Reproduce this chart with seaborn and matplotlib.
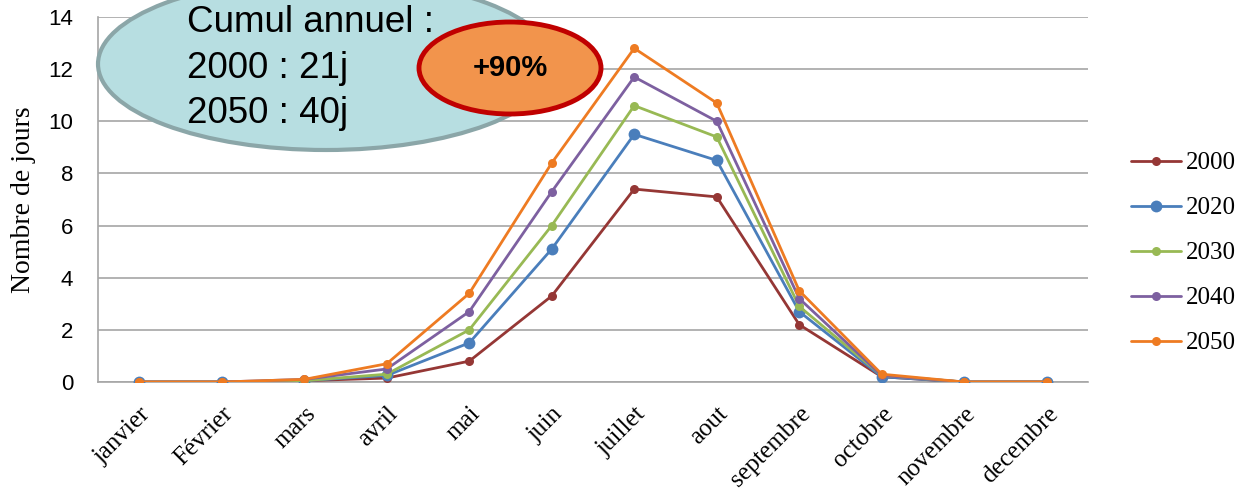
import numpy as np
import pandas as pd
import matplotlib
matplotlib.use('Agg')
import matplotlib.pyplot as plt
from matplotlib.patches import Ellipse
import seaborn as sns

# Data
months = ['janvier', 'Février', 'mars', 'avril', 'mai', 'juin', 'juillet',
          'aout', 'septembre', 'octobre', 'novembre', 'decembre']
years = ['2000', '2020', '2030', '2040', '2050']
v2000 = [0, 0, 0.05, 0.15, 0.8, 3.3, 7.4, 7.1, 2.2, 0.2, 0, 0]
v2020 = [0, 0, 0.05, 0.25, 1.5, 5.1, 9.5, 8.5, 2.7, 0.2, 0, 0]
v2030 = [0, 0, 0.05, 0.3, 2.0, 6.0, 10.6, 9.4, 2.9, 0.25, 0, 0]
v2040 = [0, 0, 0.1, 0.5, 2.7, 7.3, 11.7, 10.0, 3.2, 0.25, 0, 0]
v2050 = [0, 0, 0.1, 0.7, 3.4, 8.4, 12.8, 10.7, 3.5, 0.3, 0, 0]
colors = ['#953735', '#4A7EBB', '#98B954', '#7D60A0', '#EE7B22']
marker_sizes = [6.5, 8.5, 6.5, 6.5, 6.5]

values = [v2000, v2020, v2030, v2040, v2050]
df = pd.DataFrame({
    'mois': months * len(years),
    'idx': list(range(len(months))) * len(years),
    'annee': np.repeat(years, len(months)),
    'jours': np.concatenate(values),
})

sns.set_style('white')
plt.rcParams['text.color'] = 'black'
plt.rcParams['xtick.color'] = 'black'
plt.rcParams['ytick.color'] = 'black'
plt.rcParams['axes.labelcolor'] = 'black'

W, H = 1239, 493
fig = plt.figure(figsize=(W / 100, H / 100), dpi=100)
ax = fig.add_axes([98 / W, 1 - 382 / H, (1088 - 98) / W, (382 - 17) / H])

for year, col, ms in zip(years, colors, marker_sizes):
    sns.lineplot(data=df[df['annee'] == year], x='idx', y='jours', ax=ax,
                 color=col, marker='o', markersize=ms, markeredgewidth=0,
                 linewidth=2, label=year, zorder=3)

ax.set_xlim(-0.5, len(months) - 0.5)
ax.set_ylim(0, 14)
ax.set_yticks(np.arange(0, 15, 2))
ax.set_yticklabels([str(v) for v in range(0, 15, 2)], family='Liberation Sans', fontsize=16)
ax.set_xticks(range(len(months)))
ax.set_xticklabels(months, rotation=45, ha='right', va='top', rotation_mode='anchor',
                   family='Liberation Serif', fontsize=18)
ax.tick_params(axis='x', length=0, pad=15)
ax.tick_params(axis='y', length=0, pad=18)
ax.set_xlabel('')
ax.set_ylabel('Nombre de jours', family='Liberation Serif', fontsize=20, labelpad=9)
ax.yaxis.grid(True, color='#A6A6A6', linewidth=1.2)
ax.set_axisbelow(True)
for side in ['top', 'right']:
    ax.spines[side].set_visible(False)
for side in ['left', 'bottom']:
    ax.spines[side].set_color('#A6A6A6')
    ax.spines[side].set_linewidth(1.2)

ax.legend(loc='center left', bbox_to_anchor=(1118 / W, 1 - 253 / H),
          bbox_transform=fig.transFigure, frameon=False,
          prop={'family': 'Liberation Serif', 'size': 18},
          handlelength=2.0, handletextpad=0.2, labelspacing=0.9, borderpad=0)

# annotation ellipses
big = Ellipse((326 / W, 1 - 64 / H), 456 / W, 172 / H, transform=fig.transFigure,
              facecolor='#B7DEE1', edgecolor='#8BA6A8', linewidth=3, zorder=5)
fig.patches.append(big)
small = Ellipse((510 / W, 1 - 68 / H), 182 / W, 92 / H, transform=fig.transFigure,
                facecolor='#F2944C', edgecolor='#C00000', linewidth=3.5, zorder=6)
fig.patches.append(small)

for txt, y in [('Cumul annuel :', 23), ('2000 : 21j', 68), ('2050 : 40j', 113)]:
    fig.text(187 / W, 1 - y / H, txt, family='Liberation Sans', fontsize=26.5,
             va='center', ha='left', zorder=7)
fig.text(510 / W, 1 - 68 / H, '+90%', family='Liberation Sans', fontsize=21,
         fontweight='bold', va='center', ha='center', zorder=7)

fig.savefig('out.png', dpi=100)
